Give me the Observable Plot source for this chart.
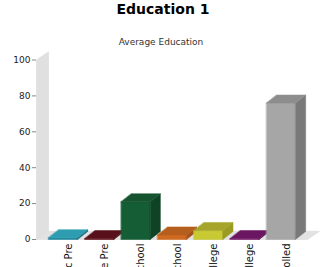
<!DOCTYPE html>
<html>
<head>
<meta charset="utf-8">
<script src="https://cdn.jsdelivr.net/npm/d3@7"></script>
<script src="https://cdn.jsdelivr.net/npm/@observablehq/plot@0.6"></script>
<style>
  html, body { margin: 0; padding: 0; background: #fff; }
  #wrap { position: relative; width: 326px; height: 267px; overflow: hidden; font-family: "DejaVu Sans", sans-serif; }
  #title { position: absolute; left: 0; width: 326px; top: 0px; text-align: center; font-size: 14px; font-weight: bold; line-height: 18px; color: #000; }
  #subtitle { position: absolute; left: 0; width: 322px; top: 36px; text-align: center; font-size: 9px; line-height: 12px; color: #333; }
  #chart { position: absolute; left: 0; top: 50px; }
  svg { overflow: hidden; }
</style>
</head>
<body>
<div id="wrap">
  <div id="title">Education 1</div>
  <div id="subtitle">Average Education</div>
  <div id="chart"></div>
</div>
<script>
const categories = ["Public Pre", "Private Pre", "Public School", "Private School", "Public College", "Private College", "Not Enrolled"];
const values = [1, 0.5, 21, 2.5, 5, 0.5, 76];
const frontColors = ["#21889c", "#641317", "#155d34", "#cf6a20", "#c9c934", "#781b69", "#a6a6a6"];
const sideColors  = ["#17687a", "#470b0e", "#0e4326", "#a5511a", "#9b9b22", "#56104b", "#797979"];
const topColors   = ["#2e9db1", "#58101a", "#16532f", "#b65e1d", "#a5a52a", "#6a1660", "#8d8d8d"];
const yTicks = [0, 20, 40, 60, 80, 100];

// 3D depth parameters (in data units)
const half = 0.4, bd = 0.28, bdv = 4.5;
const xLo = -0.73, xHi = 6.73, wd = 0.33, wdv = 4.6;

const faces = [];
values.forEach((v, i) => {
  const x1 = i - half, x2 = i + half;
  const polys = [
    {face: "front", fill: frontColors[i], pts: [[x1, 0], [x2, 0], [x2, v], [x1, v]]},
    {face: "side", fill: sideColors[i], pts: [[x2, 0], [x2 + bd, bdv], [x2 + bd, v + bdv], [x2, v]]},
    {face: "top", fill: topColors[i], pts: [[x1, v], [x2, v], [x2 + bd, v + bdv], [x1 + bd, v + bdv]]}
  ];
  polys.forEach(p => p.pts.forEach(([x, y]) => faces.push({id: i + "-" + p.face, x, y, fill: p.fill})));
});

const wall = [[xLo, 0], [xLo, 100], [xLo + wd, 100 + wdv], [xLo + wd, wdv]].map(([x, y]) => ({id: "wall", x, y}));
const floor = [[xLo, 0], [xHi, 0], [xHi + wd, wdv], [xLo + wd, wdv]].map(([x, y]) => ({id: "floor", x, y}));

const labels = categories.map((c, i) => ({x: i + 0.15, label: c}));

const chart = Plot.plot({
  width: 326,
  height: 217,
  marginLeft: 36,
  marginRight: 19,
  marginTop: 9.5,
  marginBottom: 28,
  style: {fontFamily: "DejaVu Sans, sans-serif", fontSize: "9px", background: "#fff"},
  x: {domain: [xLo, xHi], axis: null},
  y: {domain: [0, 100], axis: null},
  marks: [
    Plot.line(wall, {x: "x", y: "y", z: "id", fill: "#e0e0e0", stroke: "#d6d6d6", strokeWidth: 0.5, curve: "linear-closed"}),
    Plot.line(floor, {x: "x", y: "y", z: "id", fill: "#e2e2e2", stroke: "#d8d8d8", strokeWidth: 0.5, curve: "linear-closed"}),
    Plot.axisY({ticks: yTicks, tickSize: 4, tickPadding: 2, stroke: "#888", fill: "#222", label: null, fontSize: 9}),
    Plot.line(faces, {x: "x", y: "y", z: "id", fill: "fill", stroke: "fill", strokeWidth: 0.5, curve: "linear-closed"}),
    Plot.text(labels, {x: "x", y: 0, text: "label", rotate: -90, textAnchor: "end", lineAnchor: "middle", dy: 4, fill: "#111", fontSize: 10})
  ]
});
document.getElementById("chart").appendChild(chart);
</script>
</body>
</html>
